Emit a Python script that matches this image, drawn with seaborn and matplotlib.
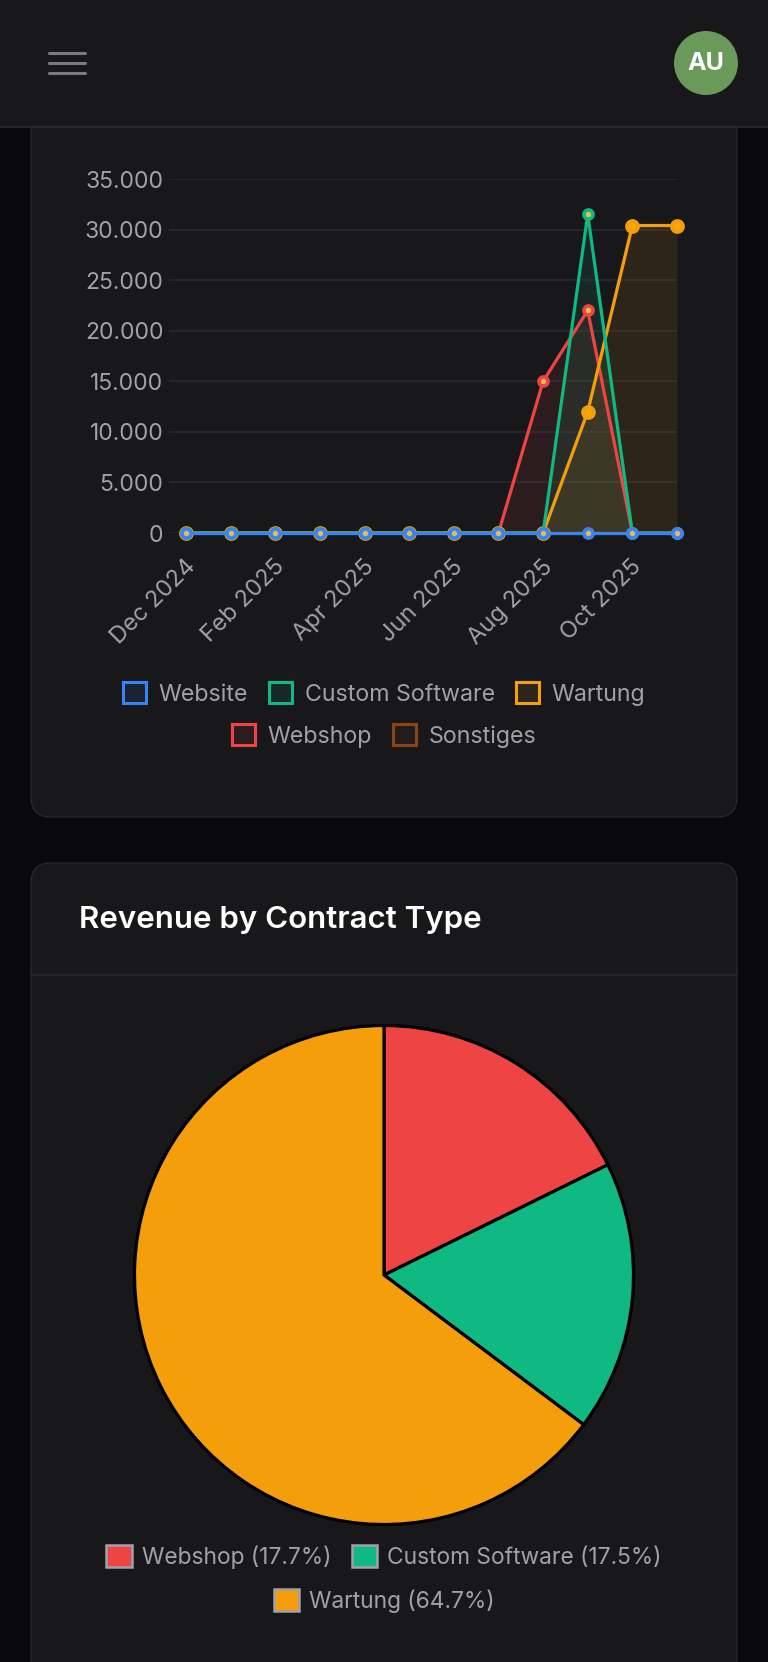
import numpy as np
import pandas as pd
import matplotlib
matplotlib.use("Agg")
import matplotlib.pyplot as plt
import matplotlib.transforms as mtransforms
import seaborn as sns
from matplotlib.patches import FancyBboxPatch, Rectangle, Circle, Patch
from matplotlib.ticker import FuncFormatter, MultipleLocator
from matplotlib.colors import to_rgba

sns.set_theme(style="dark")
plt.rcParams["font.family"] = ["Inter", "DejaVu Sans"]

# ---------------- data ----------------
months = ["Dec 2024", "Jan 2025", "Feb 2025", "Mar 2025", "Apr 2025", "May 2025",
          "Jun 2025", "Jul 2025", "Aug 2025", "Sep 2025", "Oct 2025", "Nov 2025"]
website = [0, 0, 0, 0, 0, 0, 0, 0, 0, 0, 0, 0]
custom_software = [0, 0, 0, 0, 0, 0, 0, 0, 0, 31500, 0, 0]
wartung = [0, 0, 0, 0, 0, 0, 0, 0, 0, 12000, 30400, 30400]
webshop = [0, 0, 0, 0, 0, 0, 0, 0, 15000, 22000, 0, 0]
sonstiges = [0, 0, 0, 0, 0, 0, 0, 0, 0, 0, 0, 0]

series_names = ["Website", "Custom Software", "Wartung", "Webshop", "Sonstiges"]
series_colors = ["#3b82f6", "#10b981", "#f59e0b", "#ef4444", "#8b4513"]

pie_labels = ["Webshop", "Custom Software", "Wartung"]
pie_share = [17.7, 17.5, 64.7]
pie_colors = ["#ef4444", "#10b981", "#f59e0b"]

df = pd.DataFrame({"month": months, "Website": website, "Custom Software": custom_software,
                   "Wartung": wartung, "Webshop": webshop, "Sonstiges": sonstiges})
df["idx"] = np.arange(len(months))

# ---------------- page ----------------
W, H = 768, 1662
PAGE = "#09090b"
CARD = "#18181b"
BORDER = "#27272a"
MUTED = "#a1a1aa"

fig = plt.figure(figsize=(W / 100, H / 100), dpi=100, facecolor=PAGE)

bg = fig.add_axes([0, 0, 1, 1], zorder=-5)
bg.set_xlim(0, W)
bg.set_ylim(H, 0)
bg.axis("off")
bg.set_facecolor(PAGE)

# cards
bg.add_patch(FancyBboxPatch((31, -40), 706, 857, boxstyle="round,pad=0,rounding_size=20",
                            fc=CARD, ec=BORDER, lw=1))
bg.add_patch(FancyBboxPatch((31, 863), 706, 900, boxstyle="round,pad=0,rounding_size=20",
                            fc=CARD, ec=BORDER, lw=1))
bg.plot([31, 737], [975, 975], color=BORDER, lw=1.2)

# header
bg.add_patch(Rectangle((0, 0), W, 127, fc=CARD, ec="none", zorder=3))
bg.plot([0, W], [127, 127], color="#2c2c30", lw=1.2, zorder=4)
for yy in [52.7, 62.7, 73]:
    bg.plot([49, 85], [yy, yy], color="#7a7a80", lw=2.2, solid_capstyle="round", zorder=4)
bg.add_patch(Circle((706, 63), 32, fc="#6a9a5a", ec="none", zorder=4))
bg.text(706, 64, "AU", color="white", fontsize=18, fontweight="bold",
        ha="center", va="center", zorder=5)


def fx(px):
    return px / W


def fy(py):
    return 1 - py / H


# ---------------- line chart ----------------
left, right, top, bottom = 169, 677, 179, 533
ax = fig.add_axes([fx(left), fy(bottom), fx(right - left), (bottom - top) / H])
ax.set_facecolor((0, 0, 0, 0))
unit = (677 - 186) / 11
ax.set_xlim(-(186 - 169) / unit, 11)
ax.set_ylim(0, 35000)

order = list(range(len(series_names)))[::-1]
for z, i in enumerate(order):
    name, c = series_names[i], series_colors[i]
    ax.fill_between(df["idx"], df[name], 0, color=c, alpha=0.1, lw=0, zorder=1 + z * 0.1)
for z, i in enumerate(order):
    name, c = series_names[i], series_colors[i]
    big = name == "Wartung"
    sns.lineplot(data=df, x="idx", y=name, ax=ax, color=c, lw=2.3,
                 marker="o", markersize=8 if big else 6.5,
                 markeredgecolor=c, markeredgewidth=2.6,
                 markerfacecolor="#f5a70b" if big else "#e2c04a",
                 clip_on=False, zorder=3 + z)

ax.yaxis.set_major_locator(MultipleLocator(5000))
ax.yaxis.set_major_formatter(FuncFormatter(lambda v, p: f"{int(v):,}".replace(",", ".")))
ax.set_xticks(df["idx"][::2])
ax.set_xticklabels(months[::2])
ax.set_xlabel("")
ax.set_ylabel("")
for s in ax.spines.values():
    s.set_visible(False)
ax.grid(False)
ax.yaxis.grid(True, color="#2a2a2e", lw=1.1)
ax.set_axisbelow(True)
ax.tick_params(axis="y", length=0, pad=4, labelsize=16.5, labelcolor=MUTED)
ax.tick_params(axis="x", length=0, pad=22, labelsize=17, labelcolor=MUTED)
offset = mtransforms.ScaledTranslation(6 / 100, 0, fig.dpi_scale_trans)
for lab in ax.get_xticklabels():
    lab.set_rotation(45)
    lab.set_ha("right")
    lab.set_va("center")
    lab.set_rotation_mode("anchor")
    lab.set_transform(lab.get_transform() + offset)

handles = [Patch(facecolor=to_rgba(c, 0.1), edgecolor=c, lw=2.2) for c in series_colors]
leg_kw = dict(loc="center", frameon=False, fontsize=16.7, handlelength=1.0, handleheight=1.0,
              handletextpad=0.55, columnspacing=0.9, labelcolor=MUTED, borderaxespad=0)
fig.legend(handles[:3], series_names[:3], bbox_to_anchor=(fx(384), fy(694)), ncol=3, **leg_kw)
fig.legend(handles[3:], series_names[3:], bbox_to_anchor=(fx(384), fy(736)), ncol=2, **leg_kw)

# ---------------- pie chart ----------------
fig.text(fx(79), fy(920), "Revenue by Contract Type", color="white", fontsize=22.5,
         fontweight="semibold", ha="left", va="center")

r = 252
pax = fig.add_axes([fx(384 - r), fy(1275 + r), 2 * r / W, 2 * r / H])
pax.pie(pie_share, colors=pie_colors, startangle=90, counterclock=False,
        wedgeprops=dict(edgecolor="black", linewidth=2.3))
pax.set_xlim(-1.01, 1.01)
pax.set_ylim(-1.01, 1.01)
pax.set_aspect("auto")
pax.axis("off")

pie_handles = [Patch(facecolor=c, edgecolor="#a1a1aa", lw=1.8) for c in pie_colors]
pie_text = [f"{l} ({v}%)" for l, v in zip(pie_labels, pie_share)]
pie_kw = {**leg_kw, "handlelength": 1.1, "handleheight": 1.1, "handletextpad": 0.45,
          "fontsize": 16.4}
fig.legend(pie_handles[:2], pie_text[:2], bbox_to_anchor=(fx(384), fy(1557)), ncol=2, **pie_kw)
fig.legend(pie_handles[2:], pie_text[2:], bbox_to_anchor=(fx(384), fy(1601)), ncol=1, **pie_kw)

fig.savefig("out.png", dpi=100, facecolor=PAGE)
